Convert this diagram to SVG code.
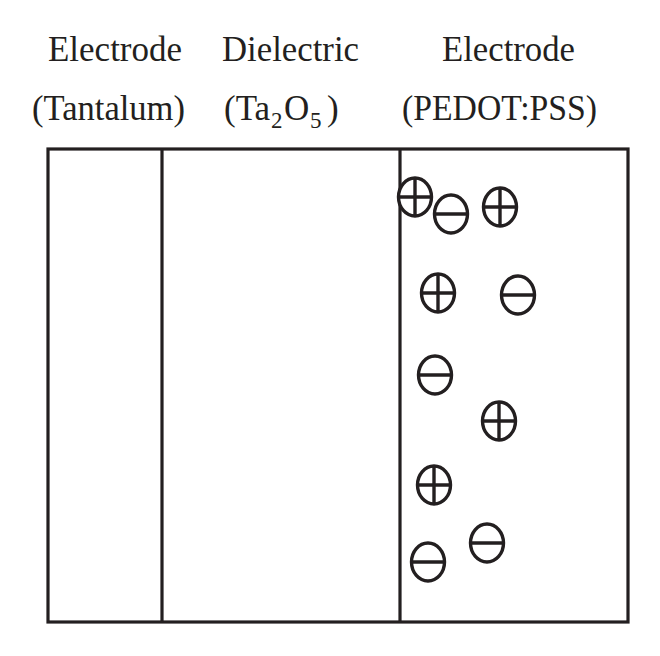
<svg xmlns="http://www.w3.org/2000/svg" xmlns:xlink="http://www.w3.org/1999/xlink" width="660" height="656" viewBox="0 0 660 656">
<style>
  .lbl { font-family: "Liberation Serif", "Times New Roman", serif; font-size: 35px; fill: #231f20; }
  .sub { font-size: 23px; }
  .edge { stroke: #231f20; stroke-width: 3.2; fill: none; }
  .chg { stroke: #231f20; stroke-width: 3.4; fill: #ffffff; }
  .bar { stroke: #231f20; stroke-width: 3.4; fill: none; }
</style>
<defs>
  <g id="plus">
    <ellipse cx="0" cy="0" rx="16.5" ry="19" class="chg"/>
    <line x1="-16.5" y1="0" x2="16.5" y2="0" class="bar"/>
    <line x1="0" y1="-19" x2="0" y2="19" class="bar"/>
  </g>
  <g id="minus">
    <ellipse cx="0" cy="0" rx="16.5" ry="19" class="chg"/>
    <line x1="-16.5" y1="0" x2="16.5" y2="0" class="bar"/>
  </g>
</defs>
<rect width="660" height="656" fill="#ffffff"/>

<g id="labels">
  <text class="lbl" x="48" y="61" textLength="134" lengthAdjust="spacingAndGlyphs">Electrode</text>
  <text class="lbl" x="222" y="61" textLength="137" lengthAdjust="spacingAndGlyphs">Dielectric</text>
  <text class="lbl" x="442" y="61" textLength="133" lengthAdjust="spacingAndGlyphs">Electrode</text>
  <text class="lbl" x="32" y="120" textLength="153" lengthAdjust="spacingAndGlyphs">(Tantalum)</text>
  <text class="lbl" x="224" y="120">(Ta</text>
  <text class="lbl sub" x="271" y="128">2</text>
  <text class="lbl" x="284" y="120">O</text>
  <text class="lbl sub" x="310" y="128">5</text>
  <text class="lbl" x="327" y="120">)</text>
  <text class="lbl" x="402" y="120" textLength="195" lengthAdjust="spacingAndGlyphs">(PEDOT:PSS)</text>
</g>

<g id="layers">
  <rect id="capacitor-box" x="48" y="149" width="580" height="473" class="edge"/>
  <line id="tantalum-dielectric" x1="162" y1="149" x2="162" y2="622" class="edge"/>
  <line id="dielectric-pedot" x1="400" y1="149" x2="400" y2="622" class="edge"/>
</g>

<g id="charges">
  <use id="c1" xlink:href="#plus" href="#plus" x="415" y="197"/>
  <use id="c2" xlink:href="#minus" href="#minus" x="451" y="214"/>
  <use id="c3" xlink:href="#plus" href="#plus" x="500" y="207"/>
  <use id="c4" xlink:href="#plus" href="#plus" x="438" y="293"/>
  <use id="c5" xlink:href="#minus" href="#minus" x="518" y="295"/>
  <use id="c6" xlink:href="#minus" href="#minus" x="435" y="375"/>
  <use id="c7" xlink:href="#plus" href="#plus" x="499" y="421"/>
  <use id="c8" xlink:href="#plus" href="#plus" x="434" y="485"/>
  <use id="c9" xlink:href="#minus" href="#minus" x="487" y="543"/>
  <use id="c10" xlink:href="#minus" href="#minus" x="428" y="562"/>
</g>
</svg>
